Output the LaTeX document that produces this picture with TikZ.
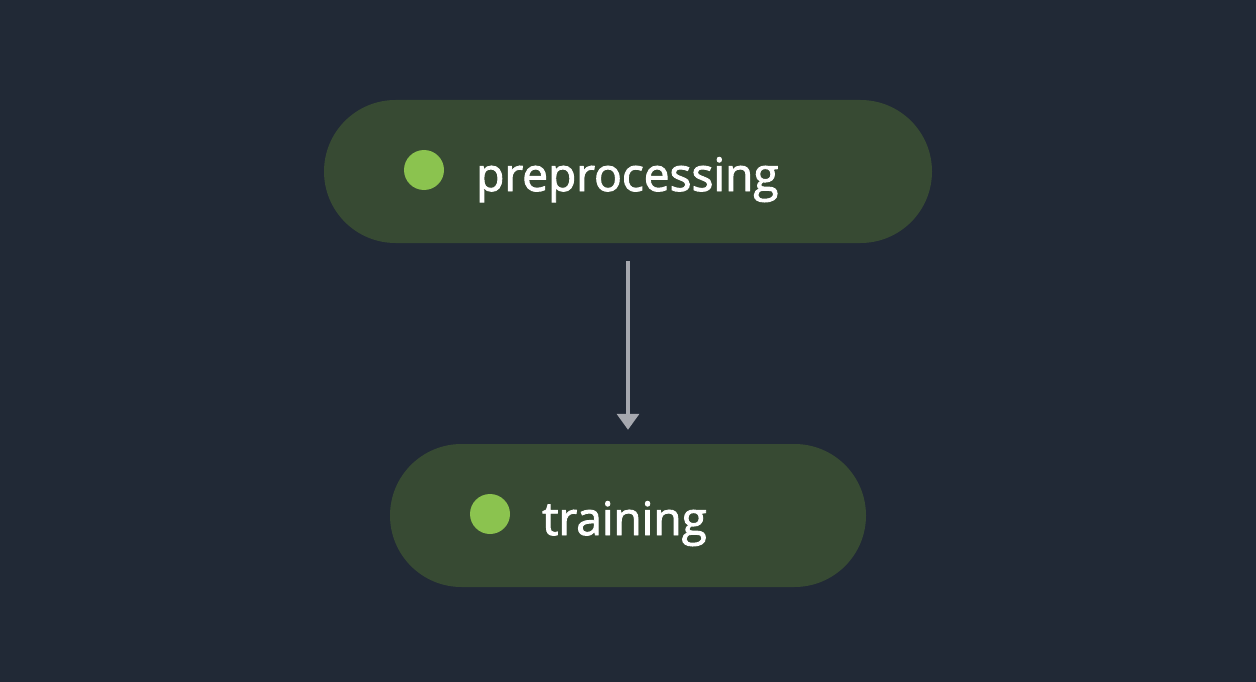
\documentclass[tikz,border=0pt]{standalone}
\usepackage{fontspec}
\newfontfamily\lbl{Open Sans}[FakeBold=2]
\usetikzlibrary{arrows.meta}
\definecolor{bgc}{HTML}{212936}
\definecolor{pillc}{HTML}{374A33}
\definecolor{dotc}{HTML}{8BC34F}
\definecolor{edgec}{HTML}{A6A8AF}
\begin{document}
\begin{tikzpicture}[x=1pt,y=-1pt,
  pill/.style={draw=none,fill=pillc,rounded corners=71.5pt,minimum height=143pt,inner sep=0pt},
  dot/.style={circle,fill=dotc,minimum size=40pt,inner sep=0pt},
  label/.style={anchor=base west,inner sep=0pt,text=white,font=\lbl\fontsize{46pt}{54pt}\selectfont},
  flow/.style={draw=edgec,line width=3.5pt,-{Triangle[length=16pt,width=22pt]}}]
  \fill[bgc] (0,0) rectangle (1256,682);
  \useasboundingbox (0,0) rectangle (1256,682);
  \node[pill,minimum width=608pt] (pre) at (628,171.5) {};
  \node[pill,minimum width=476pt] (train) at (628,515.5) {};
  \node[dot] (predot) at (424,170) {};
  \node[dot] (traindot) at (490,514) {};
  \node[label] (pretxt) at (476,191) {preprocessing};
  \node[label] (traintxt) at (542,535) {training};
  \draw[flow,shorten <=18pt,shorten >=14pt] (pre.south) -- (train.north);
\end{tikzpicture}
\end{document}
